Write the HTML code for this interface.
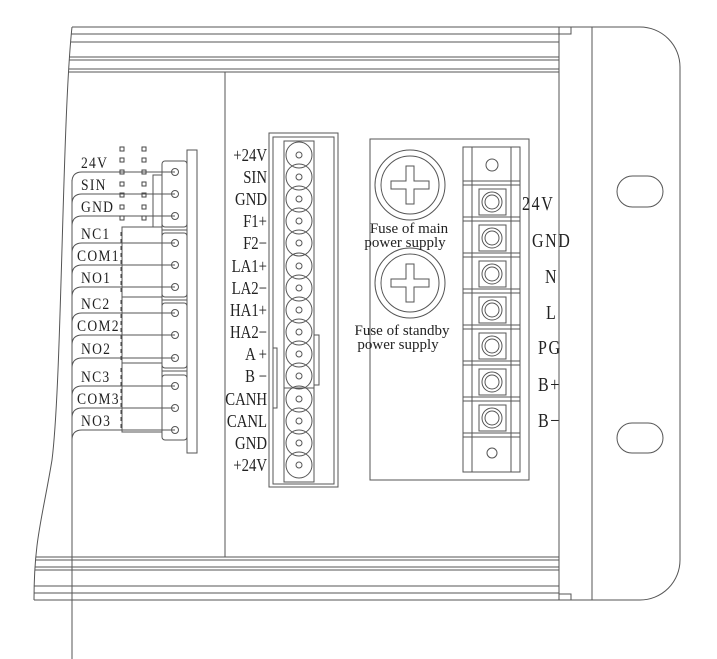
<!DOCTYPE html>
<html><head><meta charset="utf-8"><style>
html,body{margin:0;padding:0;background:#fff}
svg{display:block}
text{font-family:"Liberation Serif",serif;fill:#222}
</style></head><body>
<svg width="717" height="659" viewBox="0 0 717 659" xmlns="http://www.w3.org/2000/svg" fill="none" stroke="#555" stroke-width="1">
<g stroke="#555">
<line x1="40" y1="27" x2="559" y2="27"/>
<line x1="40" y1="34" x2="559" y2="34"/>
<line x1="40" y1="42" x2="559" y2="42"/>
<line x1="40" y1="57" x2="559" y2="57"/>
<line x1="40" y1="60" x2="559" y2="60"/>
<line x1="40" y1="69" x2="559" y2="69"/>
<line x1="40" y1="72" x2="559" y2="72"/>
<line x1="0" y1="557" x2="559" y2="557"/>
<line x1="0" y1="560" x2="559" y2="560"/>
<line x1="0" y1="567" x2="559" y2="567"/>
<line x1="0" y1="570" x2="559" y2="570"/>
<line x1="0" y1="586" x2="559" y2="586"/>
<line x1="0" y1="593" x2="559" y2="593"/>
<line x1="0" y1="600" x2="559" y2="600"/>
</g>
<path d="M0,0 L72,0 L72,27 C62,120 62,380 52,460 C42,520 34,540 34,600 L34,659 L0,659 Z" fill="#fff" stroke="none"/>
<path d="M72,27 C62,120 62,380 52,460 C42,520 34,540 34,600"/>
<rect x="559" y="27" width="12" height="7"/>
<rect x="559" y="594" width="12" height="6"/>
<line x1="559" y1="27" x2="559" y2="600"/>
<line x1="592" y1="27" x2="592" y2="600"/>
<path d="M559,27 H640 A40,40 0 0 1 680,67 V560 A40,40 0 0 1 640,600 H559"/>
<rect x="617" y="176" width="46" height="31" rx="15.5"/>
<rect x="617" y="423" width="46" height="30" rx="15"/>
<line x1="225" y1="72" x2="225" y2="557"/>
<line x1="72" y1="180" x2="72" y2="659"/>
<g>
<path d="M175,172 H82 Q72,172 72,182"/>
<path d="M175,194 H82 Q72,194 72,204"/>
<path d="M175,216 H82 Q72,216 72,226"/>
<path d="M175,243 H82 Q72,243 72,253"/>
<path d="M175,265 H82 Q72,265 72,275"/>
<path d="M175,287 H82 Q72,287 72,297"/>
<path d="M175,313 H82 Q72,313 72,323"/>
<path d="M175,335 H82 Q72,335 72,345"/>
<path d="M175,358 H82 Q72,358 72,368"/>
<path d="M175,386 H82 Q72,386 72,396"/>
<path d="M175,408 H82 Q72,408 72,418"/>
<path d="M175,430 H82 Q72,430 72,440"/>
</g>
<g font-size="16" stroke="none" fill="#222" letter-spacing="1.5">
<text x="81" y="168" transform="translate(81,0) scale(0.85,1) translate(-81,0)">24V</text>
<text x="81" y="190" transform="translate(81,0) scale(0.85,1) translate(-81,0)">SIN</text>
<text x="81" y="212" transform="translate(81,0) scale(0.85,1) translate(-81,0)">GND</text>
<text x="81" y="239" transform="translate(81,0) scale(0.85,1) translate(-81,0)">NC1</text>
<text x="77" y="261" transform="translate(77,0) scale(0.85,1) translate(-77,0)">COM1</text>
<text x="81" y="283" transform="translate(81,0) scale(0.85,1) translate(-81,0)">NO1</text>
<text x="81" y="309" transform="translate(81,0) scale(0.85,1) translate(-81,0)">NC2</text>
<text x="77" y="331" transform="translate(77,0) scale(0.85,1) translate(-77,0)">COM2</text>
<text x="81" y="354" transform="translate(81,0) scale(0.85,1) translate(-81,0)">NO2</text>
<text x="81" y="382" transform="translate(81,0) scale(0.85,1) translate(-81,0)">NC3</text>
<text x="77" y="404" transform="translate(77,0) scale(0.85,1) translate(-77,0)">COM3</text>
<text x="81" y="426" transform="translate(81,0) scale(0.85,1) translate(-81,0)">NO3</text>
</g>
<g stroke="#444">
<rect x="120" y="147" width="4" height="4"/><rect x="142" y="147" width="4" height="4"/>
<rect x="120" y="158" width="4" height="4"/><rect x="142" y="158" width="4" height="4"/>
<rect x="120" y="170" width="4" height="4"/><rect x="142" y="170" width="4" height="4"/>
<rect x="120" y="182" width="4" height="4"/><rect x="142" y="182" width="4" height="4"/>
<rect x="120" y="193" width="4" height="4"/><rect x="142" y="193" width="4" height="4"/>
<rect x="120" y="205" width="4" height="4"/><rect x="142" y="205" width="4" height="4"/>
<rect x="120" y="216" width="4" height="4"/><rect x="142" y="216" width="4" height="4"/>
</g>
<rect x="122" y="227" width="40" height="70"/>
<rect x="122" y="297" width="40" height="66"/>
<rect x="122" y="363" width="40" height="69"/>
<g stroke="#444">
<line x1="121" y1="232" x2="121" y2="292" stroke-dasharray="4,3"/>
<line x1="121" y1="300" x2="121" y2="360" stroke-dasharray="4,3"/>
<line x1="121" y1="368" x2="121" y2="428" stroke-dasharray="4,3"/>
</g>
<rect x="153" y="175" width="9" height="52"/>
<rect x="187" y="150" width="10" height="303"/>
<g>
<rect x="162" y="161" width="25" height="66" rx="3"/>
<rect x="162" y="233" width="25" height="64" rx="3"/>
<rect x="162" y="303" width="25" height="65" rx="3"/>
<rect x="162" y="375" width="25" height="65" rx="3"/>
<line x1="162" y1="230" x2="187" y2="230"/>
<line x1="162" y1="300" x2="187" y2="300"/>
<line x1="162" y1="371" x2="187" y2="371"/>
</g>
<g>
<circle cx="175" cy="172" r="3.5"/><circle cx="175" cy="194" r="3.5"/><circle cx="175" cy="216" r="3.5"/>
<circle cx="175" cy="243" r="3.5"/><circle cx="175" cy="265" r="3.5"/><circle cx="175" cy="287" r="3.5"/>
<circle cx="175" cy="313" r="3.5"/><circle cx="175" cy="335" r="3.5"/><circle cx="175" cy="358" r="3.5"/>
<circle cx="175" cy="386" r="3.5"/><circle cx="175" cy="408" r="3.5"/><circle cx="175" cy="430" r="3.5"/>
</g>
<rect x="269" y="133" width="69" height="354"/>
<rect x="273" y="137" width="61" height="347"/>
<rect x="284" y="141" width="30" height="341"/>
<line x1="284" y1="388" x2="314" y2="388"/>
<rect x="314" y="335" width="5" height="50"/>
<rect x="273" y="348" width="4" height="60"/>
<g>
<circle cx="299" cy="155" r="13"/><circle cx="299" cy="177" r="13"/><circle cx="299" cy="199" r="13"/>
<circle cx="299" cy="221" r="13"/><circle cx="299" cy="243" r="13"/><circle cx="299" cy="266" r="13"/>
<circle cx="299" cy="288" r="13"/><circle cx="299" cy="310" r="13"/><circle cx="299" cy="332" r="13"/>
<circle cx="299" cy="354" r="13"/><circle cx="299" cy="376" r="13"/><circle cx="299" cy="399" r="13"/>
<circle cx="299" cy="421" r="13"/><circle cx="299" cy="443" r="13"/><circle cx="299" cy="465" r="13"/>
</g>
<g>
<circle cx="299" cy="155" r="3"/><circle cx="299" cy="177" r="3"/><circle cx="299" cy="199" r="3"/>
<circle cx="299" cy="221" r="3"/><circle cx="299" cy="243" r="3"/><circle cx="299" cy="266" r="3"/>
<circle cx="299" cy="288" r="3"/><circle cx="299" cy="310" r="3"/><circle cx="299" cy="332" r="3"/>
<circle cx="299" cy="354" r="3"/><circle cx="299" cy="376" r="3"/><circle cx="299" cy="399" r="3"/>
<circle cx="299" cy="421" r="3"/><circle cx="299" cy="443" r="3"/><circle cx="299" cy="465" r="3"/>
</g>
<g transform="translate(267,0) scale(0.82,1)" stroke="none" font-size="18" text-anchor="end">
<text x="0" y="161">+24V</text>
<text x="0" y="183">SIN</text>
<text x="0" y="205">GND</text>
<text x="0" y="227">F1+</text>
<text x="0" y="249">F2−</text>
<text x="0" y="272">LA1+</text>
<text x="0" y="294">LA2−</text>
<text x="0" y="316">HA1+</text>
<text x="0" y="338">HA2−</text>
<text x="0" y="360">A +</text>
<text x="0" y="382">B −</text>
<text x="0" y="405">CANH</text>
<text x="0" y="427">CANL</text>
<text x="0" y="449">GND</text>
<text x="0" y="471">+24V</text>
</g>
<rect x="370" y="139" width="159" height="341"/>
<circle cx="410" cy="185" r="35"/><circle cx="410" cy="185" r="29"/>
<path d="M406,166 H414 V181 H429 V189 H414 V204 H406 V189 H391 V181 H406 Z"/>
<circle cx="410" cy="283" r="35"/><circle cx="410" cy="283" r="29"/>
<path d="M406,264 H414 V279 H429 V287 H414 V302 H406 V287 H391 V279 H406 Z"/>
<g stroke="none" font-size="15" text-anchor="middle">
<text x="409" y="233">Fuse of main</text>
<text x="405" y="247">power supply</text>
<text x="402" y="335">Fuse of standby</text>
<text x="398" y="349">power supply</text>
</g>
<rect x="463" y="147" width="57" height="325"/>
<line x1="472" y1="147" x2="472" y2="472"/>
<line x1="511" y1="147" x2="511" y2="472"/>
<g>
<line x1="463" y1="181" x2="520" y2="181"/><line x1="463" y1="185" x2="520" y2="185"/>
<line x1="463" y1="217" x2="520" y2="217"/><line x1="463" y1="221" x2="520" y2="221"/>
<line x1="463" y1="253" x2="520" y2="253"/><line x1="463" y1="257" x2="520" y2="257"/>
<line x1="463" y1="289" x2="520" y2="289"/><line x1="463" y1="293" x2="520" y2="293"/>
<line x1="463" y1="325" x2="520" y2="325"/><line x1="463" y1="329" x2="520" y2="329"/>
<line x1="463" y1="361" x2="520" y2="361"/><line x1="463" y1="365" x2="520" y2="365"/>
<line x1="463" y1="397" x2="520" y2="397"/><line x1="463" y1="401" x2="520" y2="401"/>
<line x1="463" y1="433" x2="520" y2="433"/><line x1="463" y1="437" x2="520" y2="437"/>
</g>
<circle cx="492" cy="165" r="6"/>
<circle cx="492" cy="453" r="5"/>
<g>
<rect x="479" y="189" width="27" height="26"/><circle cx="492" cy="202" r="10"/><circle cx="492" cy="202" r="7"/>
<rect x="479" y="225" width="27" height="26"/><circle cx="492" cy="238" r="10"/><circle cx="492" cy="238" r="7"/>
<rect x="479" y="261" width="27" height="26"/><circle cx="492" cy="274" r="10"/><circle cx="492" cy="274" r="7"/>
<rect x="479" y="297" width="27" height="26"/><circle cx="492" cy="310" r="10"/><circle cx="492" cy="310" r="7"/>
<rect x="479" y="333" width="27" height="26"/><circle cx="492" cy="346" r="10"/><circle cx="492" cy="346" r="7"/>
<rect x="479" y="369" width="27" height="26"/><circle cx="492" cy="382" r="10"/><circle cx="492" cy="382" r="7"/>
<rect x="479" y="405" width="27" height="26"/><circle cx="492" cy="418" r="10"/><circle cx="492" cy="418" r="7"/>
</g>
<g stroke="none" font-size="20" letter-spacing="2">
<text x="522" y="210" transform="translate(522,0) scale(0.8,1) translate(-522,0)">24V</text>
<text x="532" y="247" transform="translate(532,0) scale(0.8,1) translate(-532,0)">GND</text>
<text x="545" y="283" transform="translate(545,0) scale(0.8,1) translate(-545,0)">N</text>
<text x="546" y="319" transform="translate(546,0) scale(0.8,1) translate(-546,0)">L</text>
<text x="538" y="354" transform="translate(538,0) scale(0.8,1) translate(-538,0)">PG</text>
<text x="538" y="391" transform="translate(538,0) scale(0.8,1) translate(-538,0)">B+</text>
<text x="538" y="427" transform="translate(538,0) scale(0.8,1) translate(-538,0)">B−</text>
</g>
</svg>
</body></html>
